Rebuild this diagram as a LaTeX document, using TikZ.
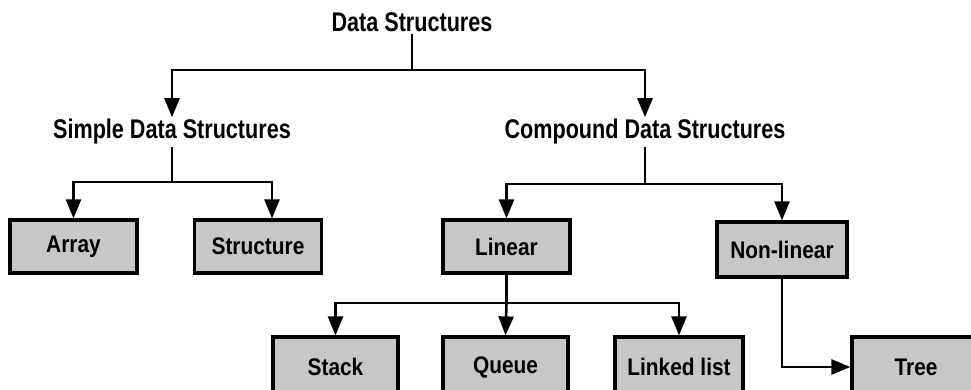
\documentclass[tikz,border=0pt]{standalone}
\usepackage{fontspec}
\setmainfont{Liberation Sans}
\newfontfamily\headfont[FakeStretch=0.8]{Liberation Sans Bold}
\newfontfamily\boxfont[FakeStretch=0.87]{Liberation Sans Bold}
\usetikzlibrary{arrows.meta}
\tikzset{
  head/.style={font=\headfont\fontsize{27}{27}\selectfont, inner sep=2pt},
  dsbox/.style={draw=black, line width=3.2pt, fill=black!22, minimum width=127pt,
    minimum height=53pt, inner sep=0pt, font=\boxfont\fontsize{24}{24}\selectfont},
  conn/.style={line width=2.6pt, draw=black},
  arr/.style={conn, -{Triangle[length=19pt,width=15pt]}}
}
\begin{document}
\begin{tikzpicture}[x=1pt,y=-1pt]
\useasboundingbox (0,0) rectangle (971,389);
% headings
\node[head] (ds)  at (412,22)  {Data Structures};
\node[head] (sds) at (172,132) {Simple Data Structures};
\node[head] (cds) at (645,132) {Compound Data Structures};
% boxes
\node[dsbox] (array)     at (73.5,246.5)  {Array};
\node[dsbox] (structure) at (258,246.5)   {Structure};
\node[dsbox] (linear)    at (506.5,246.5) {Linear};
\node[dsbox, minimum width=130pt, minimum height=55pt] (nonlinear) at (782,249.5) {Non-linear};
\node[dsbox, minimum width=125pt, minimum height=60pt] (stack)  at (335.5,367) {Stack};
\node[dsbox, minimum width=125pt, minimum height=60pt] (queue)  at (505.5,367) {Queue};
\node[dsbox, minimum width=128pt, minimum height=60pt] (linked) at (679,367)   {Linked list};
\node[dsbox, minimum width=128pt, minimum height=60pt] (tree)   at (916,367)   {Tree};
% junction levels
\coordinate (y1) at (0,70);
\coordinate (y2) at (0,182);
\coordinate (y3) at (0,184);
\coordinate (y4) at (0,303);
% connectors
\draw[conn] (ds.south) -- (ds.south |- y1);
\draw[arr] (ds.south |- y1) -| (sds.north);
\draw[arr] (ds.south |- y1) -| (cds.north);
\draw[conn] (sds.south) -- (sds.south |- y2);
\draw[arr] (sds.south |- y2) -| (array.north);
\draw[arr] (sds.south |- y2) -| ([xshift=14pt]structure.north);
\draw[conn] (cds.south) -- (cds.south |- y3);
\draw[arr] (cds.south |- y3) -| (linear.north);
\draw[arr] (cds.south |- y3) -| (nonlinear.north);
\draw[conn] (linear.south) -- (linear.south |- y4);
\draw[arr] (linear.south |- y4) -| (stack.north);
\draw[arr] (linear.south |- y4) -- (queue.north);
\draw[arr] (linear.south |- y4) -| (linked.north);
\draw[arr] (nonlinear.south) |- (tree.west);
\end{tikzpicture}
\end{document}
